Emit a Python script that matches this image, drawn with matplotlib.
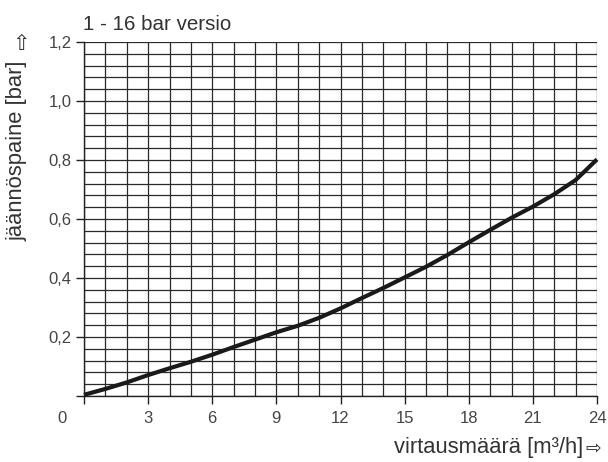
import numpy as np
import matplotlib
matplotlib.use("Agg")
import matplotlib.pyplot as plt
from matplotlib.ticker import MultipleLocator

plt.rcParams["font.family"] = ["Liberation Sans", "DejaVu Sans"]

# residual pressure curve
flow = [0, 1, 2, 3, 4, 5, 6, 7, 8, 9, 10, 11, 12, 13, 14, 15, 16, 17,
        18, 19, 20, 21, 22, 23, 24]
pressure = [0.004, 0.024, 0.046, 0.071, 0.094, 0.116, 0.140, 0.166, 0.191,
            0.216, 0.238, 0.265, 0.297, 0.332, 0.366, 0.402, 0.438, 0.478,
            0.521, 0.563, 0.604, 0.642, 0.684, 0.732, 0.802]

x_ticks = [0, 3, 6, 9, 12, 15, 18, 21, 24]
y_ticks = [0, 0.2, 0.4, 0.6, 0.8, 1.0, 1.2]
y_labels = ["", "0,2", "0,4", "0,6", "0,8", "1,0", "1,2"]

title = "1 - 16 bar versio"
xlabel = "virtausmäärä [m³/h]"
ylabel = "jäännöspaine [bar]"

fig = plt.figure(figsize=(6.08, 4.62), dpi=100)
ax = fig.add_axes([84 / 608, 66 / 462, 513 / 608, 354 / 462])

ax.set_xlim(0, 24)
ax.set_ylim(0, 1.2)

ax.xaxis.set_major_locator(plt.FixedLocator(x_ticks))
ax.xaxis.set_minor_locator(MultipleLocator(1))
ax.yaxis.set_major_locator(plt.FixedLocator(y_ticks))
ax.yaxis.set_minor_locator(MultipleLocator(0.04))
ax.set_xticklabels(["" if t == 0 else str(t) for t in x_ticks])
ax.set_yticklabels(y_labels)

ax.grid(which="both", color="#2a2a2a", linewidth=0.9)
ax.set_axisbelow(True)
ax.tick_params(which="major", length=6, width=1, color="#222222",
               labelsize=12, labelcolor="#444444")
ax.tick_params(axis="x", which="major", pad=4.5)
ax.tick_params(axis="y", which="major", pad=3)
ax.tick_params(which="minor", length=0)

for s in ["top", "right"]:
    ax.spines[s].set_visible(False)
for s in ["left", "bottom"]:
    ax.spines[s].set_color("#222222")
    ax.spines[s].set_linewidth(1)

ax.plot(flow, pressure, color="#1a1a1a", linewidth=3, solid_capstyle="butt",
        clip_on=False, zorder=5)

# corner "0" label sits left of the axis origin, level with the other labels
ax.annotate("0", xy=(0, 0), xytext=(-16, -6 - 4.5), textcoords="offset points",
            ha="center", va="top", fontsize=12, color="#444444")

fig.text(83 / 608, 1 - 25 / 462, title, ha="left", va="center",
         fontsize=14.8, color="#333333")

# axis titles with their outlined arrows
fig.text(583 / 608, 1 - 448 / 462, xlabel, ha="right",
         va="center", fontsize=15.8, color="#333333")
fig.text(601 / 608, 1 - 449 / 462, "⇨", ha="right", va="center",
         fontsize=13.5, color="#333333", family=["DejaVu Sans"])
fig.text(17 / 608, 1 - 151 / 462, ylabel, ha="center", va="center",
         rotation=90, fontsize=15.8, color="#333333")
fig.text(21 / 608, 1 - 44 / 462, "⇧", ha="center", va="center",
         fontsize=15, color="#333333", family=["DejaVu Sans"])

fig.savefig("out.png", dpi=100)
